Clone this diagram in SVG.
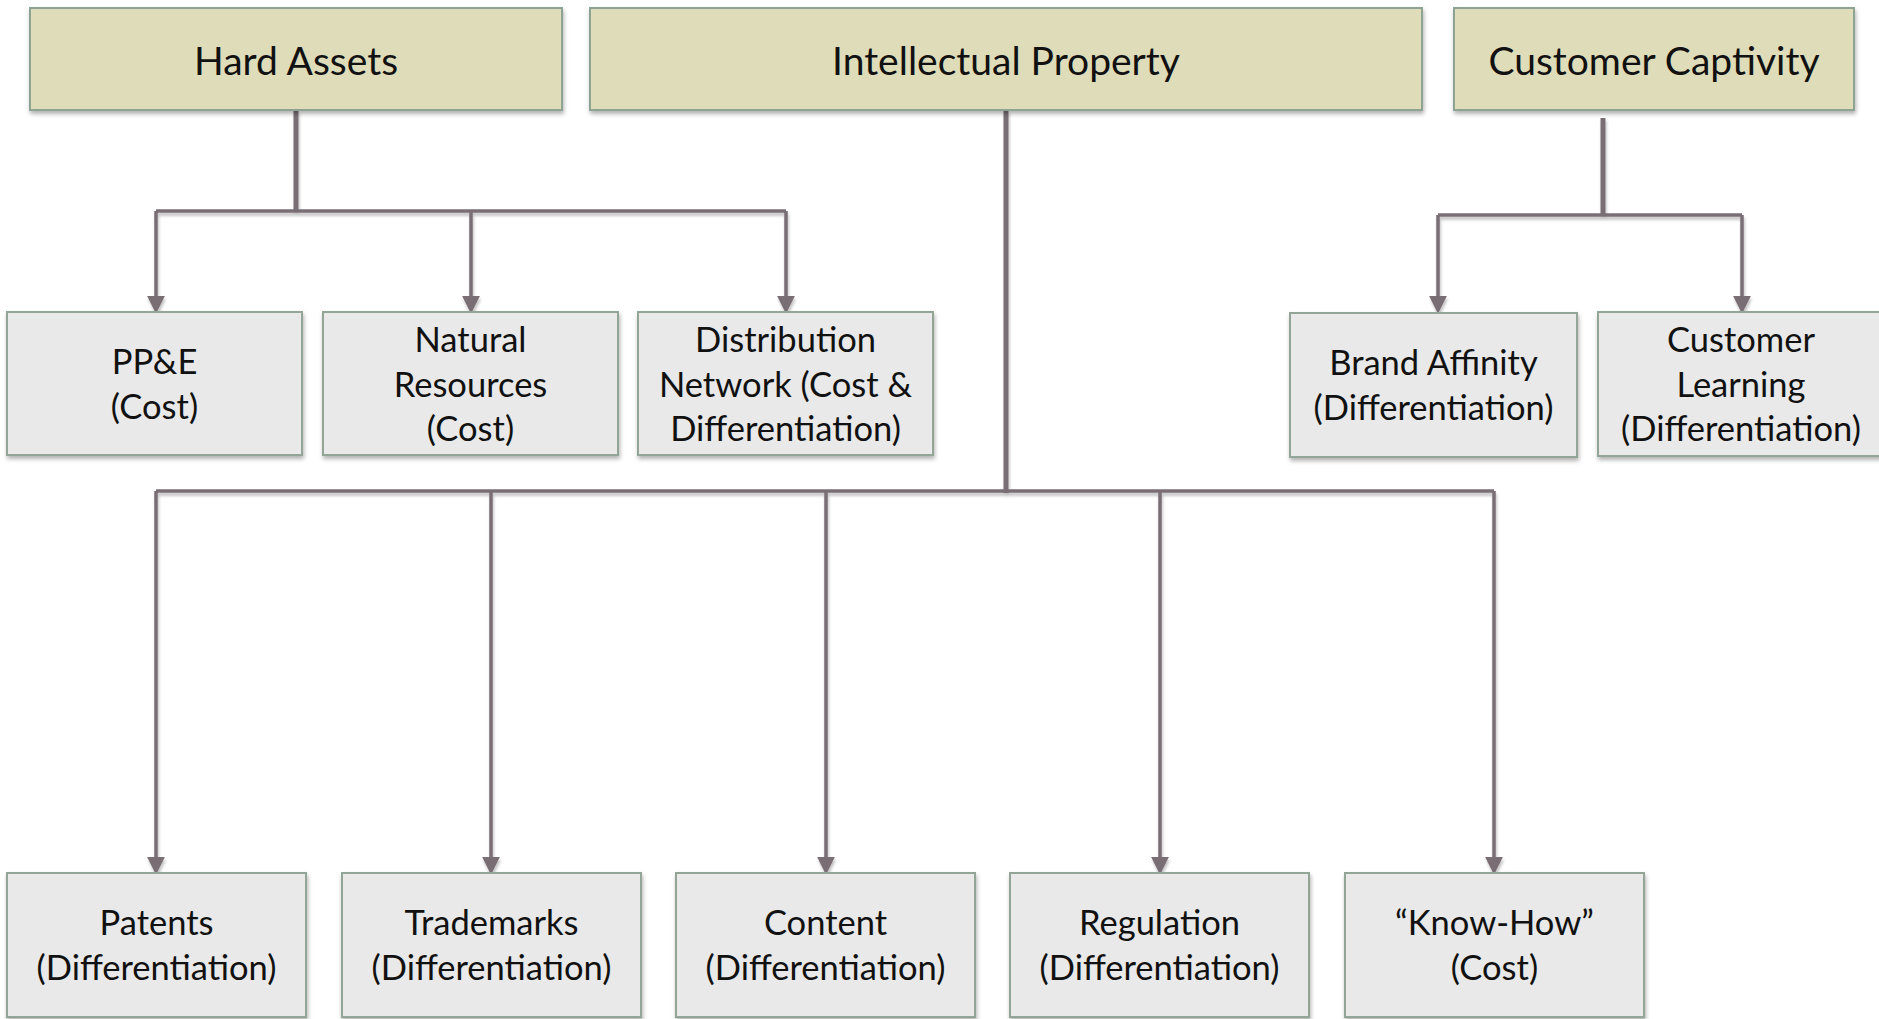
<svg xmlns="http://www.w3.org/2000/svg" width="1879" height="1019" viewBox="0 0 1879 1019">
<defs>
<filter id="sh" x="-10%" y="-10%" width="130%" height="140%">
<feDropShadow dx="1" dy="3" stdDeviation="2" flood-color="#000" flood-opacity="0.3"/>
</filter>
<filter id="lsh" x="-20%" y="-20%" width="140%" height="140%">
<feDropShadow dx="1" dy="3" stdDeviation="1.5" flood-color="#000" flood-opacity="0.25"/>
</filter>
<marker id="ah" markerUnits="userSpaceOnUse" markerWidth="18" markerHeight="18" refX="8" refY="2" orient="0" viewBox="0 0 16 16">
<path d="M0,0 L16,0 L8,16 Z" fill="#7a6e74"/>
</marker>
</defs>
<style>
.top{fill:#dfdcb9;stroke:#8fa394;stroke-width:2}
.sub{fill:#e8e9e8;stroke:#93a597;stroke-width:2}
.t1{font-family:Lato,"Liberation Sans",sans-serif;font-size:39px;fill:#111;text-anchor:middle}
.t2{font-family:Lato,"Liberation Sans",sans-serif;font-size:34.5px;fill:#111;text-anchor:middle}
.c{fill:none;stroke:#7a6e74;stroke-width:3.5}
.cs{fill:none;stroke:#7a6e74;stroke-width:5}
</style>
<rect width="1879" height="1019" fill="#fff"/>

<g id="connectors" filter="url(#lsh)">
<path class="cs" d="M296,110 V211"/>
<path class="c" d="M156,211 H786"/>
<path class="c" d="M156,211 V298" marker-end="url(#ah)"/>
<path class="c" d="M471,211 V298" marker-end="url(#ah)"/>
<path class="c" d="M786,211 V298" marker-end="url(#ah)"/>

<path class="cs" d="M1006,110 V493"/>
<path class="c" d="M156,491 H1494"/>
<path class="c" d="M156,491 V859" marker-end="url(#ah)"/>
<path class="c" d="M491,491 V859" marker-end="url(#ah)"/>
<path class="c" d="M826,491 V859" marker-end="url(#ah)"/>
<path class="c" d="M1160,491 V859" marker-end="url(#ah)"/>
<path class="c" d="M1494,491 V859" marker-end="url(#ah)"/>

<path class="cs" d="M1603,118 V216"/>
<path class="c" d="M1438,215 H1742"/>
<path class="c" d="M1438,215 V298" marker-end="url(#ah)"/>
<path class="c" d="M1742,215 V298" marker-end="url(#ah)"/>
</g>

<g id="hard-assets"><rect class="top" x="30" y="8" width="532" height="102" filter="url(#sh)"/><text class="t1" x="296" y="75">Hard Assets</text></g>
<g id="intellectual-property"><rect class="top" x="590" y="8" width="832" height="102" filter="url(#sh)"/><text class="t1" x="1006" y="75">Intellectual Property</text></g>
<g id="customer-captivity"><rect class="top" x="1454" y="8" width="400" height="102" filter="url(#sh)"/><text class="t1" x="1654" y="75">Customer Captivity</text></g>

<g id="ppe"><rect class="sub" x="7" y="312" width="295" height="143" filter="url(#sh)"/><text class="t2" x="154.5" y="374">PP&amp;E</text><text class="t2" x="154.5" y="419">(Cost)</text></g>
<g id="natural-resources"><rect class="sub" x="323" y="312" width="295" height="143" filter="url(#sh)"/><text class="t2" x="470.5" y="352">Natural</text><text class="t2" x="470.5" y="396.5">Resources</text><text class="t2" x="470.5" y="441">(Cost)</text></g>
<g id="distribution-network"><rect class="sub" x="638" y="312" width="295" height="143" filter="url(#sh)"/><text class="t2" x="785.5" y="352">Distribution</text><text class="t2" x="785.5" y="396.5">Network (Cost &amp;</text><text class="t2" x="785.5" y="441">Differentiation)</text></g>
<g id="brand-affinity"><rect class="sub" x="1290" y="313" width="287" height="144" filter="url(#sh)"/><text class="t2" x="1433.5" y="375">Brand Affinity</text><text class="t2" x="1433.5" y="419.5">(Differentiation)</text></g>
<g id="customer-learning"><rect class="sub" x="1598" y="312" width="290" height="144" filter="url(#sh)"/><text class="t2" x="1741" y="352">Customer</text><text class="t2" x="1741" y="396.5">Learning</text><text class="t2" x="1741" y="441">(Differentiation)</text></g>

<g id="patents"><rect class="sub" x="7" y="873" width="299" height="144" filter="url(#sh)"/><text class="t2" x="156.5" y="935">Patents</text><text class="t2" x="156.5" y="979.5">(Differentiation)</text></g>
<g id="trademarks"><rect class="sub" x="342" y="873" width="299" height="144" filter="url(#sh)"/><text class="t2" x="491.5" y="935">Trademarks</text><text class="t2" x="491.5" y="979.5">(Differentiation)</text></g>
<g id="content"><rect class="sub" x="676" y="873" width="299" height="144" filter="url(#sh)"/><text class="t2" x="825.5" y="935">Content</text><text class="t2" x="825.5" y="979.5">(Differentiation)</text></g>
<g id="regulation"><rect class="sub" x="1010" y="873" width="299" height="144" filter="url(#sh)"/><text class="t2" x="1159.5" y="935">Regulation</text><text class="t2" x="1159.5" y="979.5">(Differentiation)</text></g>
<g id="know-how"><rect class="sub" x="1345" y="873" width="299" height="144" filter="url(#sh)"/><text class="t2" x="1494.5" y="935">“Know-How”</text><text class="t2" x="1494.5" y="979.5">(Cost)</text></g>
</svg>
